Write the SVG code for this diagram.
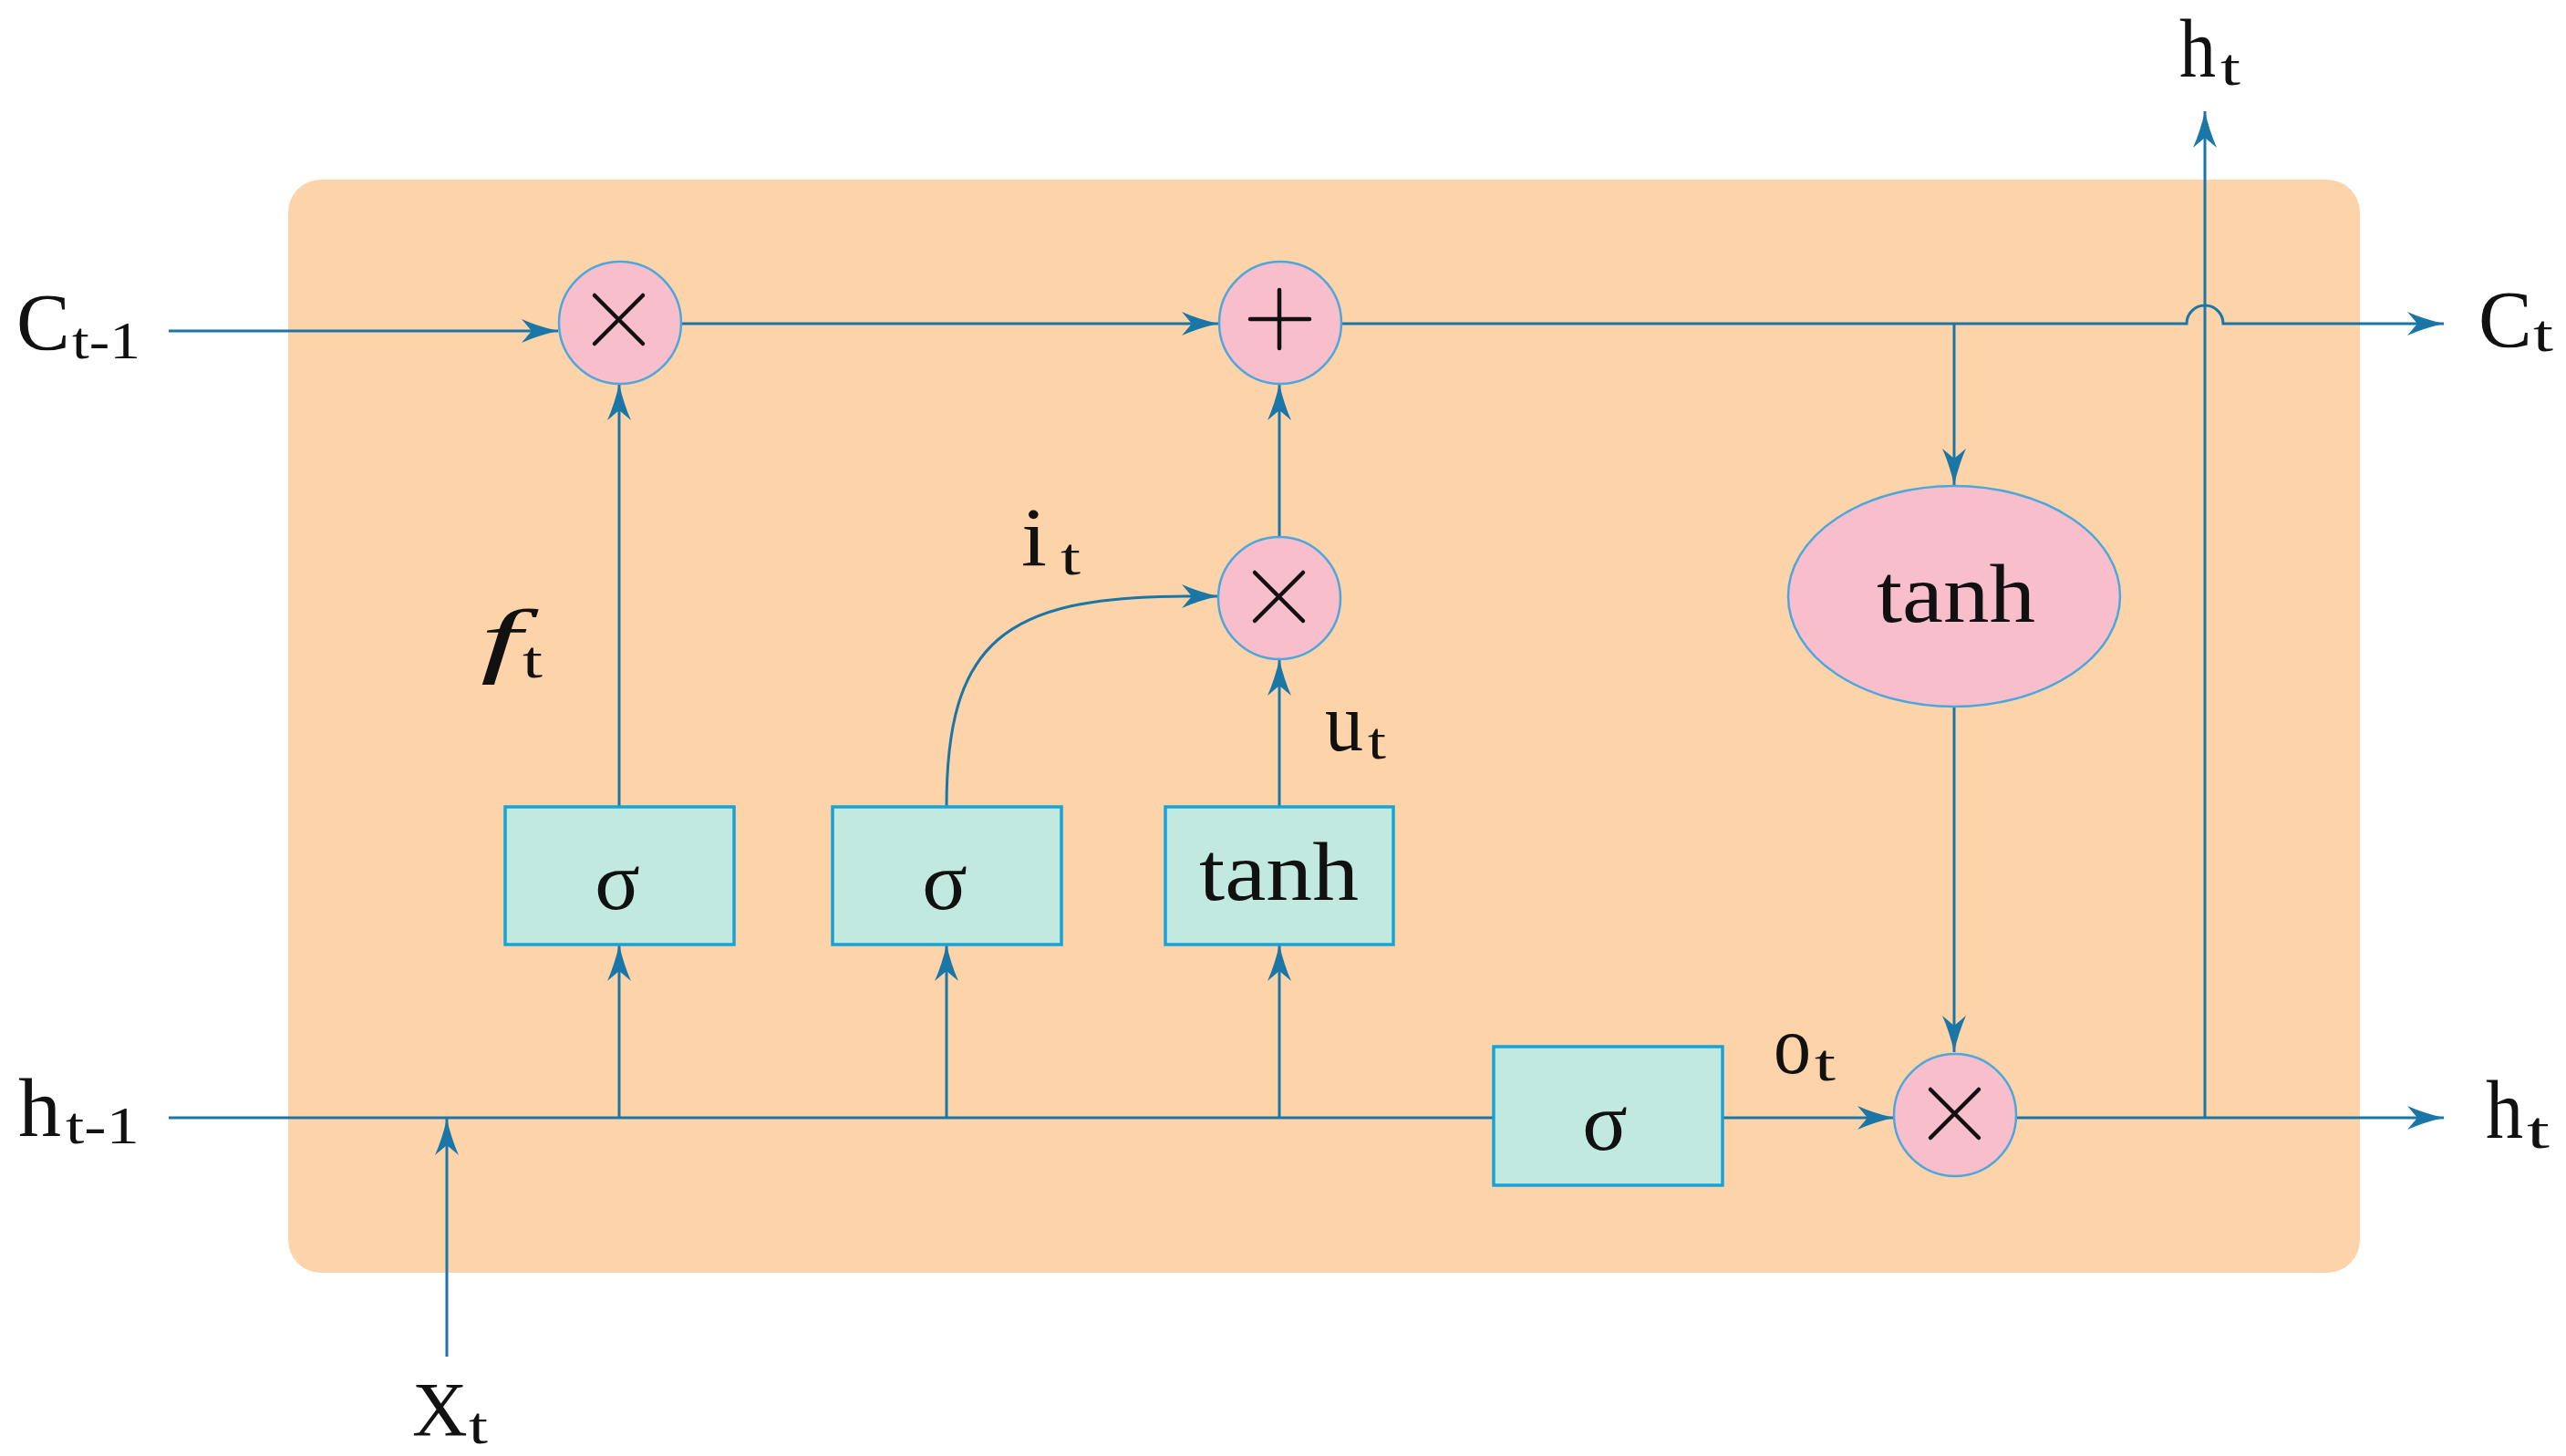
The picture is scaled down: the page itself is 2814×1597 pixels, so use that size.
<svg xmlns="http://www.w3.org/2000/svg" width="2814" height="1597" viewBox="0 0 2814 1597">
<style>
.ln{fill:none;stroke:#1b76a8;stroke-width:3}
.arr{marker-end:url(#ah)}
.op{fill:#f9becb;stroke:#4da7dc;stroke-width:2.5}
.bx{fill:#c2e9e0;stroke:#18a3d6;stroke-width:3.5}
.sym{stroke:#111;stroke-width:4.5;stroke-linecap:round}
.t{font-family:"Liberation Serif",serif;fill:#111}
.m{font-size:92px}
.s{font-size:58px}
.g{font-size:92px;text-anchor:middle}
</style>
<defs>
<marker id="ah" viewBox="0 0 40 26" markerWidth="40" markerHeight="26" refX="40" refY="13" orient="auto" markerUnits="userSpaceOnUse">
<path d="M40 13 Q18 8 0 0 L11 13 L0 26 Q18 18 40 13 Z" fill="#1b76a8"/>
</marker>
</defs>
<rect width="2814" height="1597" fill="#ffffff"/>
<rect id="cell" x="316" y="197" width="2272" height="1199" rx="36" ry="36" fill="#fdd4a9"/>

<g id="connectors">
<path class="ln arr" d="M185 363 H612"/>
<path class="ln arr" d="M747 355 H1336"/>
<path class="ln arr" d="M1471 355 H2398 A20 20 0 0 1 2438 355 H2680"/>
<path class="ln arr" d="M2143 355 V532"/>
<path class="ln arr" d="M2143 774 V1154"/>
<path class="ln" d="M185 1226 H1638"/>
<path class="ln arr" d="M1889 1226 H2077"/>
<path class="ln arr" d="M2210 1226 H2680"/>
<path class="ln arr" d="M2418 1226 V122"/>
<path class="ln arr" d="M490 1488 V1227"/>
<path class="ln arr" d="M679 1226 V1036"/>
<path class="ln arr" d="M679 885 V421"/>
<path class="ln arr" d="M1038 1226 V1036"/>
<path class="ln arr" d="M1038 885 C1038 705 1100 654 1300 654 L1336 654"/>
<path class="ln arr" d="M1403 1226 V1036"/>
<path class="ln arr" d="M1403 885 V723"/>
<path class="ln arr" d="M1403 589 V421"/>
</g>

<g id="mul-forget">
<circle class="op" cx="680" cy="354" r="67"/>
<line class="sym" x1="652" y1="324" x2="705" y2="377"/>
<line class="sym" x1="705" y1="324" x2="652" y2="377"/>
</g>
<g id="add">
<circle class="op" cx="1404" cy="354" r="67"/>
<line class="sym" x1="1403" y1="318" x2="1403" y2="382"/>
<line class="sym" x1="1371" y1="350" x2="1436" y2="350"/>
</g>
<g id="mul-input">
<circle class="op" cx="1403" cy="656" r="67"/>
<line class="sym" x1="1376" y1="628" x2="1429" y2="681"/>
<line class="sym" x1="1429" y1="628" x2="1376" y2="681"/>
</g>
<g id="mul-output">
<circle class="op" cx="2144" cy="1223" r="67"/>
<line class="sym" x1="2117" y1="1195" x2="2170" y2="1248"/>
<line class="sym" x1="2170" y1="1195" x2="2117" y2="1248"/>
</g>
<g id="tanh-cell">
<ellipse class="op" cx="2143" cy="654" rx="182" ry="121"/>
<text class="t m" x="2058" y="682" textLength="174" lengthAdjust="spacingAndGlyphs">tanh</text>
</g>
<g id="sigma-forget">
<rect class="bx" x="554" y="885" width="251" height="151"/>
<text class="t g" x="677" y="997">σ</text>
</g>
<g id="sigma-input">
<rect class="bx" x="913" y="885" width="251" height="151"/>
<text class="t g" x="1036" y="997">σ</text>
</g>
<g id="tanh-candidate">
<rect class="bx" x="1278" y="885" width="250" height="151"/>
<text class="t m" x="1315" y="987" textLength="175" lengthAdjust="spacingAndGlyphs">tanh</text>
</g>
<g id="sigma-output">
<rect class="bx" x="1638" y="1148" width="251" height="152"/>
<text class="t g" x="1760" y="1261">σ</text>
</g>

<g id="labels">
<text class="t"><tspan x="18" y="383" style="font-size:88px">C</tspan><tspan class="s" x="79" y="393" textLength="75" lengthAdjust="spacingAndGlyphs">t-1</tspan></text>
<text class="t"><tspan class="m" x="20" y="1246" textLength="47" lengthAdjust="spacingAndGlyphs">h</tspan><tspan class="s" x="72" y="1254" textLength="81" lengthAdjust="spacingAndGlyphs">t-1</tspan></text>
<text class="t"><tspan x="452" y="1575" style="font-size:84px">X</tspan><tspan class="s" x="514" y="1583" textLength="21" lengthAdjust="spacingAndGlyphs">t</tspan></text>
<text class="t"><tspan class="m" x="2390" y="84" textLength="40" lengthAdjust="spacingAndGlyphs">h</tspan><tspan class="s" x="2435" y="93" textLength="22" lengthAdjust="spacingAndGlyphs">t</tspan></text>
<text class="t"><tspan x="2718" y="380" style="font-size:88px">C</tspan><tspan class="s" x="2778" y="385" textLength="22" lengthAdjust="spacingAndGlyphs">t</tspan></text>
<text class="t"><tspan class="m" x="2726" y="1248" textLength="41" lengthAdjust="spacingAndGlyphs">h</tspan><tspan class="s" x="2771" y="1259" textLength="25" lengthAdjust="spacingAndGlyphs">t</tspan></text>
<text class="t"><tspan class="m" x="1945" y="1177" textLength="41" lengthAdjust="spacingAndGlyphs">o</tspan><tspan class="s" x="1990" y="1185" textLength="23" lengthAdjust="spacingAndGlyphs">t</tspan></text>
<text class="t"><tspan class="m" x="1453" y="823" textLength="42" lengthAdjust="spacingAndGlyphs">u</tspan><tspan class="s" x="1500" y="832" textLength="20" lengthAdjust="spacingAndGlyphs">t</tspan></text>
<text class="t"><tspan class="m" x="1120" y="620" textLength="28" lengthAdjust="spacingAndGlyphs">i</tspan><tspan class="s" x="1163" y="630" textLength="22" lengthAdjust="spacingAndGlyphs">t</tspan></text>
<text class="t"><tspan class="m" x="527" y="732" style="font-style:italic" textLength="45" lengthAdjust="spacingAndGlyphs">f</tspan><tspan class="s" x="573" y="743" textLength="22" lengthAdjust="spacingAndGlyphs">t</tspan></text>
</g>
</svg>
